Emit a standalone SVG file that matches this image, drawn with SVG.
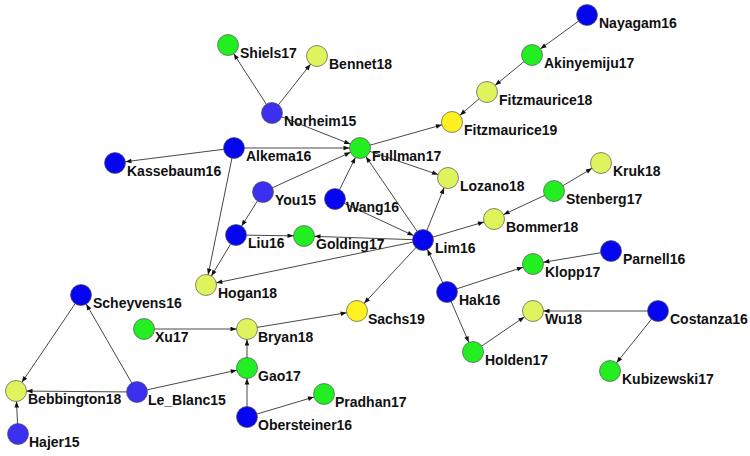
<svg xmlns="http://www.w3.org/2000/svg" width="750" height="456" viewBox="0 0 750 456">
<style>
.e{stroke:#333;stroke-width:0.9;fill:none;marker-end:url(#ah)}
circle{stroke:#555;stroke-width:0.7}
.y15{fill:#3b2ff0}.y16{fill:#0505f0}.y17{fill:#22ee22}.y18{fill:#dff35c}.y19{fill:#fff020}
text{font-family:"Liberation Sans",Arial,sans-serif;font-weight:bold;font-size:14px;fill:#111}
</style>
<defs>
<marker id="ah" viewBox="-20 -5 20 10" refX="0" refY="0" markerWidth="20" markerHeight="10" markerUnits="userSpaceOnUse" orient="auto">
<path d="M-10.5,0 L-16.5,-2.3 L-16.5,2.3 Z" fill="#111"/>
</marker>
</defs>
<rect width="750" height="456" fill="#fff"/>
<g id="edges">
<line class="e" x1="272" y1="113" x2="228" y2="45"/>
<line class="e" x1="272" y1="113" x2="317" y2="56"/>
<line class="e" x1="272" y1="113" x2="360" y2="148"/>
<line class="e" x1="234" y1="148" x2="360" y2="148"/>
<line class="e" x1="234" y1="148" x2="115" y2="163"/>
<line class="e" x1="234" y1="148" x2="206" y2="285"/>
<line class="e" x1="263" y1="192" x2="360" y2="148"/>
<line class="e" x1="263" y1="192" x2="236" y2="235"/>
<line class="e" x1="335" y1="199" x2="360" y2="148"/>
<line class="e" x1="423" y1="240" x2="360" y2="148"/>
<line class="e" x1="360" y1="148" x2="452" y2="122"/>
<line class="e" x1="360" y1="148" x2="448" y2="178"/>
<line class="e" x1="487" y1="92" x2="452" y2="122"/>
<line class="e" x1="532" y1="55" x2="487" y2="92"/>
<line class="e" x1="587" y1="15" x2="532" y2="55"/>
<line class="e" x1="554" y1="191" x2="601" y2="163"/>
<line class="e" x1="554" y1="191" x2="494" y2="219"/>
<line class="e" x1="423" y1="240" x2="494" y2="219"/>
<line class="e" x1="423" y1="240" x2="448" y2="178"/>
<line class="e" x1="335" y1="199" x2="423" y2="240"/>
<line class="e" x1="423" y1="240" x2="304" y2="236"/>
<line class="e" x1="236" y1="235" x2="304" y2="236"/>
<line class="e" x1="236" y1="235" x2="206" y2="285"/>
<line class="e" x1="423" y1="240" x2="206" y2="285"/>
<line class="e" x1="423" y1="240" x2="357" y2="311"/>
<line class="e" x1="447" y1="292" x2="423" y2="240"/>
<line class="e" x1="447" y1="292" x2="533" y2="264"/>
<line class="e" x1="447" y1="292" x2="473" y2="352"/>
<line class="e" x1="611" y1="251" x2="533" y2="264"/>
<line class="e" x1="473" y1="352" x2="533" y2="311"/>
<line class="e" x1="658" y1="311" x2="533" y2="311"/>
<line class="e" x1="658" y1="311" x2="610" y2="371"/>
<line class="e" x1="247" y1="329" x2="357" y2="311"/>
<line class="e" x1="144" y1="329" x2="247" y2="329"/>
<line class="e" x1="247" y1="368" x2="247" y2="329"/>
<line class="e" x1="247" y1="417" x2="247" y2="368"/>
<line class="e" x1="247" y1="417" x2="324" y2="394"/>
<line class="e" x1="137" y1="392" x2="247" y2="368"/>
<line class="e" x1="137" y1="392" x2="81" y2="295"/>
<line class="e" x1="137" y1="392" x2="16" y2="391"/>
<line class="e" x1="81" y1="295" x2="16" y2="391"/>
<line class="e" x1="18" y1="434" x2="16" y2="391"/>
</g>
<g id="Shiels17"><circle class="y17" cx="228" cy="45" r="10.5"/><text x="240" y="58">Shiels17</text></g>
<g id="Bennet18"><circle class="y18" cx="317" cy="56" r="10.5"/><text x="329" y="69">Bennet18</text></g>
<g id="Norheim15"><circle class="y15" cx="272" cy="113" r="10.5"/><text x="284" y="126">Norheim15</text></g>
<g id="Fullman17"><circle class="y17" cx="360" cy="148" r="10.5"/><text x="372" y="161">Fullman17</text></g>
<g id="Fitzmaurice19"><circle class="y19" cx="452" cy="122" r="10.5"/><text x="464" y="135">Fitzmaurice19</text></g>
<g id="Fitzmaurice18"><circle class="y18" cx="487" cy="92" r="10.5"/><text x="499" y="105">Fitzmaurice18</text></g>
<g id="Akinyemiju17"><circle class="y17" cx="532" cy="55" r="10.5"/><text x="544" y="68">Akinyemiju17</text></g>
<g id="Nayagam16"><circle class="y16" cx="587" cy="15" r="10.5"/><text x="599" y="28">Nayagam16</text></g>
<g id="Kruk18"><circle class="y18" cx="601" cy="163" r="10.5"/><text x="613" y="176">Kruk18</text></g>
<g id="Stenberg17"><circle class="y17" cx="554" cy="191" r="10.5"/><text x="566" y="204">Stenberg17</text></g>
<g id="Bommer18"><circle class="y18" cx="494" cy="219" r="10.5"/><text x="506" y="232">Bommer18</text></g>
<g id="Lozano18"><circle class="y18" cx="448" cy="178" r="10.5"/><text x="460" y="191">Lozano18</text></g>
<g id="Lim16"><circle class="y16" cx="423" cy="240" r="10.5"/><text x="435" y="253">Lim16</text></g>
<g id="Hak16"><circle class="y16" cx="447" cy="292" r="10.5"/><text x="459" y="305">Hak16</text></g>
<g id="Klopp17"><circle class="y17" cx="533" cy="264" r="10.5"/><text x="545" y="277">Klopp17</text></g>
<g id="Parnell16"><circle class="y16" cx="611" cy="251" r="10.5"/><text x="623" y="264">Parnell16</text></g>
<g id="Wu18"><circle class="y18" cx="533" cy="311" r="10.5"/><text x="545" y="324">Wu18</text></g>
<g id="Costanza16"><circle class="y16" cx="658" cy="311" r="10.5"/><text x="670" y="324">Costanza16</text></g>
<g id="Kubizewski17"><circle class="y17" cx="610" cy="371" r="10.5"/><text x="622" y="384">Kubizewski17</text></g>
<g id="Holden17"><circle class="y17" cx="473" cy="352" r="10.5"/><text x="485" y="365">Holden17</text></g>
<g id="Sachs19"><circle class="y19" cx="357" cy="311" r="10.5"/><text x="368" y="324">Sachs19</text></g>
<g id="Golding17"><circle class="y17" cx="304" cy="236" r="10.5"/><text x="316" y="249">Golding17</text></g>
<g id="Liu16"><circle class="y16" cx="236" cy="235" r="10.5"/><text x="248" y="248">Liu16</text></g>
<g id="You15"><circle class="y15" cx="263" cy="192" r="10.5"/><text x="275" y="205">You15</text></g>
<g id="Wang16"><circle class="y16" cx="335" cy="199" r="10.5"/><text x="346" y="212">Wang16</text></g>
<g id="Alkema16"><circle class="y16" cx="234" cy="148" r="10.5"/><text x="246" y="161">Alkema16</text></g>
<g id="Kassebaum16"><circle class="y16" cx="115" cy="163" r="10.5"/><text x="127" y="176">Kassebaum16</text></g>
<g id="Hogan18"><circle class="y18" cx="206" cy="285" r="10.5"/><text x="218" y="298">Hogan18</text></g>
<g id="Scheyvens16"><circle class="y16" cx="81" cy="295" r="10.5"/><text x="93" y="308">Scheyvens16</text></g>
<g id="Xu17"><circle class="y17" cx="144" cy="329" r="10.5"/><text x="155" y="342">Xu17</text></g>
<g id="Bryan18"><circle class="y18" cx="247" cy="329" r="10.5"/><text x="258" y="342">Bryan18</text></g>
<g id="Gao17"><circle class="y17" cx="247" cy="368" r="10.5"/><text x="258" y="381">Gao17</text></g>
<g id="Pradhan17"><circle class="y17" cx="324" cy="394" r="10.5"/><text x="335" y="407">Pradhan17</text></g>
<g id="Obersteiner16"><circle class="y16" cx="247" cy="417" r="10.5"/><text x="258" y="430">Obersteiner16</text></g>
<g id="Le_Blanc15"><circle class="y15" cx="137" cy="392" r="10.5"/><text x="148" y="405">Le_Blanc15</text></g>
<g id="Bebbington18"><circle class="y18" cx="16" cy="391" r="10.5"/><text x="28" y="404">Bebbington18</text></g>
<g id="Hajer15"><circle class="y15" cx="18" cy="434" r="10.5"/><text x="29" y="447">Hajer15</text></g>
</svg>
